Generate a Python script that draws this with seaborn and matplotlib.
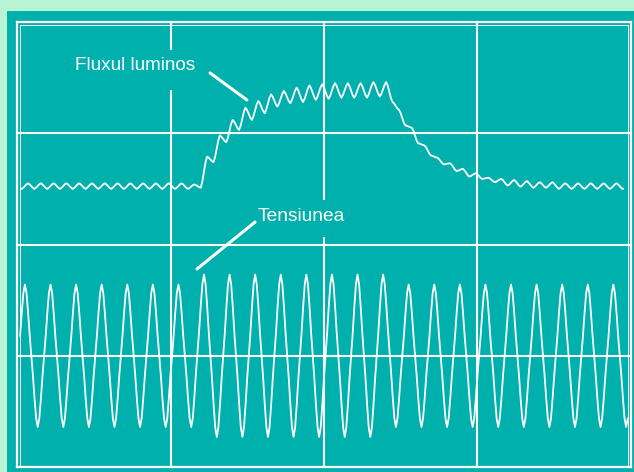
import numpy as np
import pandas as pd
import seaborn as sns
import matplotlib.pyplot as plt
from matplotlib.patches import Rectangle

# Oscilloscope screen: 4 x 4 divisions, time base 120 ms/div, y in divisions
# Voltage (Tensiunea): one peak and one trough per 20 ms cycle
volt_peaks = [1.64, 1.64, 1.64, 1.64, 1.64, 1.64, 1.64,
              1.73, 1.73, 1.73, 1.73, 1.73, 1.73, 1.73, 1.73,
              1.64, 1.64, 1.64, 1.64, 1.64, 1.64, 1.64, 1.64, 1.64]
volt_troughs = [0.36, 0.36, 0.36, 0.36, 0.36, 0.36, 0.36,
                0.27, 0.27, 0.27, 0.27, 0.27, 0.27, 0.27,
                0.36, 0.36, 0.36, 0.36, 0.36, 0.36, 0.36, 0.36, 0.36, 0.36]
# shape of one half-cycle (peak -> trough), normalised
volt_shape = [1.0, 0.88, 0.60, 0.28, 0.0, -0.28, -0.60, -0.88, -1.0]

# Luminous flux (Fluxul luminos): 100 Hz ripple, trough and peak every 10 ms
flux_troughs = [2.50, 2.50, 2.50, 2.50, 2.50, 2.50, 2.50, 2.50, 2.50, 2.50, 2.50, 2.50, 2.50,
                2.50, 2.51, 2.74, 2.92, 3.03, 3.12, 3.18, 3.24, 3.27, 3.28, 3.30, 3.31, 3.32, 3.32, 3.32, 3.33,
                3.28, 3.07, 2.91, 2.80, 2.72, 2.66, 2.61, 2.59, 2.56, 2.53, 2.52, 2.51, 2.51,
                2.50, 2.50, 2.50, 2.50, 2.50, 2.50]
flux_peaks = [2.55, 2.55, 2.55, 2.55, 2.55, 2.55, 2.55, 2.55, 2.55, 2.55, 2.55, 2.55, 2.55,
              2.54, 2.79, 2.98, 3.12, 3.23, 3.29, 3.35, 3.38, 3.41, 3.43, 3.44, 3.45, 3.45, 3.45, 3.46, 3.46,
              3.21, 3.05, 2.89, 2.78, 2.73, 2.68, 2.64, 2.60, 2.59, 2.58, 2.57, 2.56, 2.56,
              2.55, 2.55, 2.55, 2.55, 2.55]
flux_shape = [1.0, 0.62, 0.0, -0.62, -1.0]

label_flux = "Fluxul luminos"
label_volt = "Tensiunea"

teal = "#00b0ad"
mint = "#b7f4d3"


def trace(extrema, t0, half, shape, tmin, tmax):
    # join successive extremes (half a period apart) with the read waveform shape
    n = len(shape) - 1
    ts, vs = [], []
    for i in range(len(extrema) - 1):
        a, b = extrema[i], extrema[i + 1]
        mid, amp = (a + b) / 2, (a - b) / 2
        for j in range(n):
            ts.append(t0 + half * i + half * j / n)
            vs.append(mid + amp * shape[j])
    ts.append(t0 + half * (len(extrema) - 1))
    vs.append(extrema[-1])
    df = pd.DataFrame({"t": ts, "v": vs})
    return df[(df.t >= tmin) & (df.t <= tmax)]


volt_ext = [volt_troughs[-1]]
for p, tr in zip(volt_peaks, volt_troughs):
    volt_ext += [p, tr]
volt_ext.append(volt_peaks[-1])
volt_df = trace(volt_ext, -3.8, 10, volt_shape, 2.3, 478.5)

flux_ext = []
for k in range(len(flux_peaks)):
    flux_ext += [flux_troughs[k], flux_peaks[k]]
flux_ext.append(flux_troughs[-1])
flux_df = trace(flux_ext, 3.6, 5, flux_shape, 0, 480)

fig = plt.figure(figsize=(6.34, 4.72), dpi=100, facecolor=mint)
fig.add_artist(Rectangle((7 / 634, 0), 1, 461 / 472, transform=fig.transFigure,
                         facecolor=teal, edgecolor="none", zorder=-1))

ax = fig.add_axes([17 / 634, 5 / 472, 614 / 634, 445 / 472], facecolor=teal)
ax.set_xlim(0, 480)
ax.set_ylim(0, 4)
ax.set_xticks([])
ax.set_yticks([])
for s in ax.spines.values():
    s.set_color("white")
    s.set_linewidth(1.6)
ax.add_patch(Rectangle((0.005, 0.0), 0.99, 0.993, transform=ax.transAxes,
                       fill=False, edgecolor="white", lw=0.7))

# graticule (with gaps left around the labels)
for y in [1, 2, 3]:
    ax.axhline(y, color="white", lw=1.5)
ax.vlines(120, 0, 3.39, color="white", lw=1.5)
ax.vlines(120, 3.75, 4, color="white", lw=1.5)
ax.vlines(240, 0, 2.07, color="white", lw=1.5)
ax.vlines(240, 2.40, 4, color="white", lw=1.5)
ax.vlines(360, 0, 4, color="white", lw=1.5)

sns.lineplot(data=flux_df, x="t", y="v", color="white", lw=1.3, ax=ax, sort=False, estimator=None)
sns.lineplot(data=volt_df, x="t", y="v", color="white", lw=1.3, ax=ax, sort=False, estimator=None)
ax.set_xlabel("")
ax.set_ylabel("")

ax.text(45.3, 3.569, label_flux, color="white", fontsize=13.6, family="Liberation Sans", va="baseline")
ax.plot([150.9, 179.8], [3.542, 3.299], color="white", lw=2.2, solid_capstyle="round")
ax.text(188.4, 2.211, label_volt, color="white", fontsize=13.8, family="Liberation Sans", va="baseline")
ax.plot([186.1, 140.7], [2.202, 1.780], color="white", lw=2.2, solid_capstyle="round")

fig.savefig("out.png", dpi=100, facecolor=mint)
